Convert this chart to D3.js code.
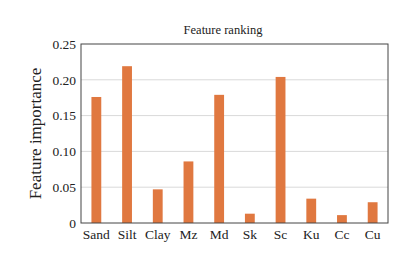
<!DOCTYPE html>
<html lang="en">
<head>
  <meta charset="UTF-8">
  <title>Feature ranking</title>
  <script src="https://d3js.org/d3.v7.min.js"></script>
  <style>
    * { margin: 0; padding: 0; box-sizing: border-box; }
    body { background: #fff; width: 404px; height: 257px; overflow: hidden; }
    svg text { font-family: 'Liberation Serif', 'Times New Roman', serif; fill: #222; }
  </style>
</head>
<body>
  <svg id="chart"></svg>
  <script>
    const features = ['Sand', 'Silt', 'Clay', 'Mz', 'Md', 'Sk', 'Sc', 'Ku', 'Cc', 'Cu'];
    const importance = [0.176, 0.219, 0.047, 0.086, 0.179, 0.013, 0.204, 0.034, 0.011, 0.029];
    const yTicks = [0, 0.05, 0.10, 0.15, 0.20, 0.25];
    const yTickLabels = ['0', '0.05', '0.10', '0.15', '0.20', '0.25'];

    const width = 404, height = 257;
    const margin = { top: 44, right: 16, bottom: 34, left: 81 };

    const svg = d3.select('#chart').attr('width', width).attr('height', height);

    const x = d3.scaleBand()
      .domain(features)
      .range([margin.left, width - margin.right])
      .paddingInner(0.68)
      .paddingOuter(0.34);

    const y = d3.scaleLinear()
      .domain([0, 0.25])
      .range([height - margin.bottom, margin.top]);

    // gridlines
    svg.append('g')
      .selectAll('line')
      .data(yTicks.slice(1, -1))
      .enter().append('line')
      .attr('x1', margin.left).attr('x2', width - margin.right)
      .attr('y1', d => y(d)).attr('y2', d => y(d))
      .attr('stroke', '#d9d9d9').attr('stroke-width', 1);

    // bars
    svg.append('g')
      .selectAll('rect')
      .data(importance)
      .enter().append('rect')
      .attr('x', (d, i) => x(features[i]))
      .attr('y', d => y(d))
      .attr('width', x.bandwidth())
      .attr('height', d => y(0) - y(d))
      .attr('fill', '#e07840');

    // frame
    svg.append('rect')
      .attr('x', margin.left).attr('y', margin.top)
      .attr('width', width - margin.left - margin.right)
      .attr('height', height - margin.top - margin.bottom)
      .attr('fill', 'none').attr('stroke', '#444').attr('stroke-width', 1);

    // y axis
    const yAxis = svg.append('g')
      .attr('transform', `translate(${margin.left},0)`)
      .call(d3.axisLeft(y).tickValues(yTicks).tickSize(0).tickPadding(5)
        .tickFormat((d, i) => yTickLabels[i]));
    yAxis.select('.domain').remove();
    yAxis.selectAll('text').style('font-size', '13.5px').style('font-family', "'Liberation Serif', serif");

    // x axis
    const xAxis = svg.append('g')
      .attr('transform', `translate(0,${height - margin.bottom})`)
      .call(d3.axisBottom(x).tickSize(0).tickPadding(6));
    xAxis.select('.domain').remove();
    xAxis.selectAll('text').style('font-size', '13.5px').style('font-family', "'Liberation Serif', serif");

    // title
    svg.append('text')
      .attr('x', 223)
      .attr('y', 34)
      .attr('text-anchor', 'middle')
      .style('font-size', '12.5px')
      .text('Feature ranking');

    // y label
    svg.append('text')
      .attr('transform', 'translate(41,133.5) rotate(-90)')
      .attr('text-anchor', 'middle')
      .style('font-size', '17px')
      .text('Feature importance');
  </script>
</body>
</html>
